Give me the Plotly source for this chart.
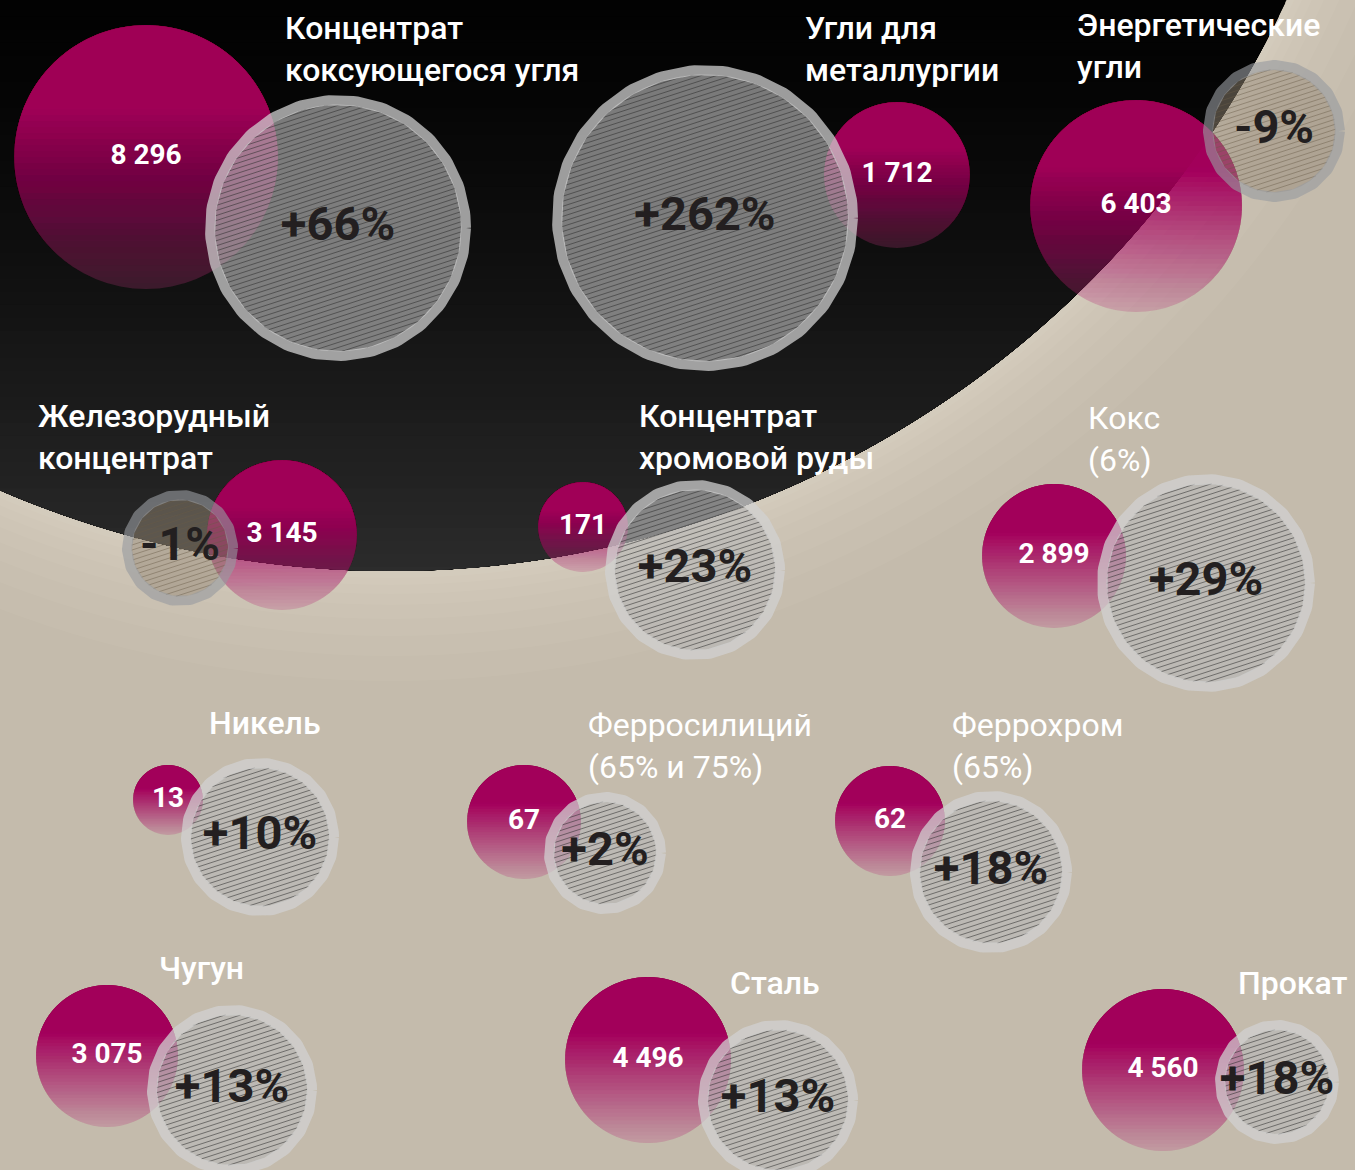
import numpy as np
import plotly.graph_objects as go

# ---------------- data ----------------
categories = ["Концентрат<br>коксующегося угля", "Угли для<br>металлургии", "Энергетические<br>угли",
              "Железорудный<br>концентрат", "Концентрат<br>хромовой руды", "Кокс<br>(6%)",
              "Никель", "Ферросилиций<br>(65% и 75%)", "Феррохром<br>(65%)",
              "Чугун", "Сталь", "Прокат"]
volumes = [8296, 1712, 6403, 3145, 171, 2899, 13, 67, 62, 3075, 4496, 4560]
changes = [66, 262, -9, -1, 23, 29, 10, 2, 18, 13, 13, 18]

# ---------------- layout (pixel positions / sizes) ----------------
vol_cx = [146, 897, 1136, 282, 583, 1054, 168, 524, 890, 107, 648, 1163]
vol_cy = [157, 175, 206, 535, 527, 556, 800, 822, 821, 1056, 1060, 1070]
vol_r = [132, 73, 106, 75, 45, 72, 35, 57, 55, 71, 83, 81]
chg_cx = [338, 705, 1274, 180, 695, 1206, 260, 605, 991, 232, 778, 1277]
chg_cy = [228, 218, 131, 548, 570, 583, 837, 853, 872, 1090, 1100, 1082]
chg_r = [133, 153, 71, 58, 90, 109, 79, 61, 81, 85, 80, 62]
lab_x = [283, 803, 1075, 36, 637, 1086, 207, 586, 950, 157, 728, 1236]
lab_y = [7, 7, 4, 395, 395, 397, 702, 704, 704, 947, 962, 962]
lab_weight = [500, 500, 500, 500, 500, 400, 500, 400, 400, 500, 500, 500]

W, H = 1355, 1170
BG = "#c4bbac"
FONT = "Roboto, 'Noto Sans', sans-serif"

# big dark disc
DA, DB, DR = 391.0, -417.0, 988.0

fig = go.Figure()


def add_poly_trace(xs, ys, fillcolor, line=None, fill="toself"):
    fig.add_trace(go.Scatter(x=xs, y=ys, mode="lines", fill=fill, fillcolor=fillcolor,
                             line=line or dict(width=0), hoverinfo="skip", showlegend=False))


# glow around dark disc (shapes below)
shapes = []
for d in [110, 85, 65, 48, 34, 23, 14, 7]:
    shapes.append(dict(type="circle", xref="x", yref="y", layer="below",
                       x0=DA - DR - d, x1=DA + DR + d, y0=DB - DR - d, y1=DB + DR + d,
                       fillcolor="rgba(255,250,242,0.045)", line=dict(width=0)))

# dark disc with vertical gradient: stacked segments below a chord
bottom = DB + DR
for yj in np.linspace(-10, bottom - 4, 45):
    s = np.clip((yj - DB) / DR, -1, 1)
    th0 = np.arcsin(s)
    th = np.linspace(th0, np.pi - th0, 160)
    f = max(yj, 0) / bottom
    g = int(round(2 + 42 * f ** 1.4))
    add_poly_trace(DA + DR * np.cos(th), DB + DR * np.sin(th), f"rgb({g},{g},{g})")

# ---- pink volume bubbles: translucent base + stacked magenta caps (vertical fade)
fig.add_trace(go.Scatter(
    x=vol_cx, y=vol_cy, mode="markers",
    marker=dict(size=[2 * r for r in vol_r], color="rgba(186,58,128,0.36)", line=dict(width=0)),
    hoverinfo="skip", showlegend=False))

N = 44
fr = np.arange(1, N + 1) / N            # chord positions (fraction of diameter from top)
mid = fr - 0.5 / N
T = np.where(mid < 0.32, 0.97, 0.97 * np.clip(1 - (mid - 0.32) / 0.68, 0, 1) ** 1.1)
T_next = np.append(T[1:], 0.0)
alphas = 1 - (1 - T) / (1 - T_next)
for k in range(N):
    sk = 2 * fr[k] - 1
    th0 = np.arcsin(np.clip(sk, -1, 1))
    th = np.linspace(np.pi - th0, 2 * np.pi + th0, 140)
    xs, ys = [], []
    for cx, cy, r in zip(vol_cx, vol_cy, vol_r):
        xs += list(cx + r * np.cos(th)) + [None]
        ys += list(cy + r * np.sin(th)) + [None]
    if alphas[k] > 0.001:
        add_poly_trace(xs, ys, f"rgba(168,0,96,{alphas[k]:.4f})")

# ---- hatched change bubbles
t = np.linspace(0, 2 * np.pi, 200)
ang = np.deg2rad(18)
ux, uy = np.cos(ang), -np.sin(ang)
nx, ny = np.sin(ang), np.cos(ang)

styles = {
    "pos": dict(fill="rgba(183,183,183,0.66)", ring="rgba(209,209,209,0.74)", hatch="rgba(45,45,45,0.55)"),
    "neg": dict(fill="rgba(148,136,118,0.49)", ring="rgba(152,155,160,0.62)", hatch="rgba(105,90,70,0.45)"),
}
for key in ["pos", "neg"]:
    st = styles[key]
    fx, fy, hx, hy, rx, ry = [], [], [], [], [], []
    for cx, cy, r, c in zip(chg_cx, chg_cy, chg_r, changes):
        if (c >= 0) != (key == "pos"):
            continue
        ri = r - 9.5
        fx += list(cx + ri * np.cos(t)) + [None]
        fy += list(cy + ri * np.sin(t)) + [None]
        rx += list(cx + (r - 5) * np.cos(t)) + [None]
        ry += list(cy + (r - 5) * np.sin(t)) + [None]
        for d in np.arange(-ri + 2.0, ri - 1.0, 4.8):
            half = np.sqrt(ri ** 2 - d ** 2)
            px, py = cx + d * nx, cy + d * ny
            hx += [px - half * ux, px + half * ux, None]
            hy += [py - half * uy, py + half * uy, None]
    add_poly_trace(fx, fy, st["fill"])
    fig.add_trace(go.Scatter(x=hx, y=hy, mode="lines", line=dict(width=1, color=st["hatch"]),
                             hoverinfo="skip", showlegend=False))
    fig.add_trace(go.Scatter(x=rx, y=ry, mode="lines", line=dict(width=10, color=st["ring"]),
                             hoverinfo="skip", showlegend=False))

# ---- texts
vol_text = [f"{v:,}".replace(",", " ") for v in volumes]
fig.add_trace(go.Scatter(x=vol_cx, y=vol_cy, mode="text", text=vol_text,
                         textposition="middle center",
                         textfont=dict(family=FONT, size=28, color="white", weight=700),
                         hoverinfo="skip", showlegend=False))
chg_text = [f"{c:+d}%" for c in changes]
fig.add_trace(go.Scatter(x=chg_cx, y=chg_cy, mode="text", text=chg_text,
                         textposition="middle center",
                         textfont=dict(family=FONT, size=47, color="#231f20", weight=700),
                         hoverinfo="skip", showlegend=False))

annotations = []
for name, x, y, w in zip(categories, lab_x, lab_y, lab_weight):
    annotations.append(dict(x=x, y=y, xref="x", yref="y", text=name, showarrow=False,
                            xanchor="left", yanchor="top", align="left",
                            font=dict(family=FONT, size=32, color="white", weight=w)))

fig.update_layout(
    width=W, height=H, margin=dict(l=0, r=0, t=0, b=0),
    paper_bgcolor=BG, plot_bgcolor=BG,
    xaxis=dict(range=[0, W], visible=False, fixedrange=True),
    yaxis=dict(range=[H, 0], visible=False, fixedrange=True),
    shapes=shapes, annotations=annotations, showlegend=False,
)

fig.write_html("out.html", config={"displayModeBar": False},
               post_script="document.body.style.margin='0';document.body.style.overflow='hidden';")
